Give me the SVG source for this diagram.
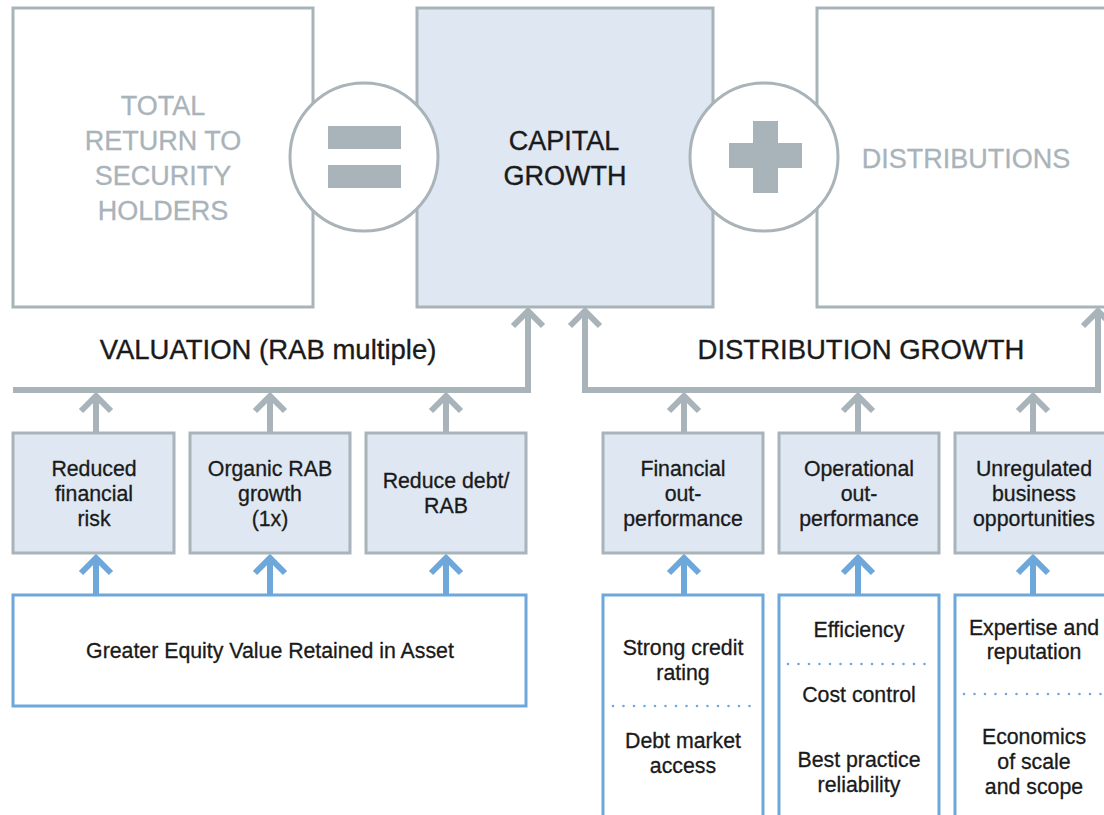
<svg xmlns="http://www.w3.org/2000/svg" xmlns:xlink="http://www.w3.org/1999/xlink" width="1104" height="815" viewBox="0 0 1104 815">
<style>
  .gbox{fill:#ffffff;stroke:#a9b3ba;stroke-width:3}
  .gboxf{fill:#dee7f2;stroke:#a9b3ba;stroke-width:3}
  .bbox{fill:#ffffff;stroke:#6ea7da;stroke-width:3}
  .circ{fill:#ffffff;stroke:#a9b3ba;stroke-width:3}
  .sym{fill:#a9b3ba}
  .gl{fill:none;stroke:#a9b3ba;stroke-width:6;stroke-linejoin:miter}
  .bl{fill:none;stroke:#6ea7da;stroke-width:6;stroke-linejoin:miter}
  .dot{fill:none;stroke:#6ea7da;stroke-width:2.6;stroke-linecap:round;stroke-dasharray:0 10.5}
  text{font-family:"Liberation Sans",Arial,Helvetica,sans-serif;text-anchor:middle}
  .big{font-size:27px}
  .grey{fill:#a9b3ba;stroke:#a9b3ba;stroke-width:0.3}
  .dark{fill:#1a1a1a;stroke:#1a1a1a;stroke-width:0.35}
  .sub{font-size:27.5px;fill:#1a1a1a;stroke:#1a1a1a;stroke-width:0.35}
  .sm{font-size:21.3px;fill:#1a1a1a;stroke:#1a1a1a;stroke-width:0.3}
</style>
<defs>
  <path id="chev" d="M-15,17 L0,2 L15,17"/>
</defs>

<g id="connectors">
  <path class="gl" d="M13,390 H528 V312"/>
  <use xlink:href="#chev" href="#chev" class="gl" x="528" y="309"/>
  <path class="gl" d="M585,312 V390 H1098 V312"/>
  <use xlink:href="#chev" href="#chev" class="gl" x="585" y="309"/>
  <use xlink:href="#chev" href="#chev" class="gl" x="1098" y="309"/>

  <path class="gl" d="M96,397 V433"/><use xlink:href="#chev" href="#chev" class="gl" x="96" y="394"/>
  <path class="gl" d="M270,397 V433"/><use xlink:href="#chev" href="#chev" class="gl" x="270" y="394"/>
  <path class="gl" d="M446,397 V433"/><use xlink:href="#chev" href="#chev" class="gl" x="446" y="394"/>
  <path class="gl" d="M684,397 V433"/><use xlink:href="#chev" href="#chev" class="gl" x="684" y="394"/>
  <path class="gl" d="M858,397 V433"/><use xlink:href="#chev" href="#chev" class="gl" x="858" y="394"/>
  <path class="gl" d="M1033,397 V433"/><use xlink:href="#chev" href="#chev" class="gl" x="1033" y="394"/>

  <path class="bl" d="M96,559 V595"/><use xlink:href="#chev" href="#chev" class="bl" x="96" y="556"/>
  <path class="bl" d="M270,559 V595"/><use xlink:href="#chev" href="#chev" class="bl" x="270" y="556"/>
  <path class="bl" d="M446,559 V595"/><use xlink:href="#chev" href="#chev" class="bl" x="446" y="556"/>
  <path class="bl" d="M684,559 V595"/><use xlink:href="#chev" href="#chev" class="bl" x="684" y="556"/>
  <path class="bl" d="M858,559 V595"/><use xlink:href="#chev" href="#chev" class="bl" x="858" y="556"/>
  <path class="bl" d="M1033,559 V595"/><use xlink:href="#chev" href="#chev" class="bl" x="1033" y="556"/>
</g>

<g id="total-return">
  <rect class="gbox" x="13" y="8" width="300" height="299"/>
  <text class="big grey" x="163" y="115">TOTAL</text>
  <text class="big grey" x="163" y="150">RETURN TO</text>
  <text class="big grey" x="163" y="185">SECURITY</text>
  <text class="big grey" x="163" y="220">HOLDERS</text>
</g>

<g id="capital-growth">
  <rect class="gboxf" x="417" y="8" width="296" height="299"/>
  <text class="big dark" x="564" y="150">CAPITAL</text>
  <text class="big dark" x="565" y="185">GROWTH</text>
</g>

<g id="distributions">
  <rect class="gbox" x="817" y="8" width="300" height="299"/>
  <text class="big grey" x="966" y="168">DISTRIBUTIONS</text>
</g>

<g id="equals">
  <circle class="circ" cx="364" cy="157" r="74"/>
  <rect class="sym" x="328" y="126" width="73" height="23"/>
  <rect class="sym" x="328" y="165" width="73" height="23"/>
</g>

<g id="plus">
  <circle class="circ" cx="764" cy="157" r="74"/>
  <rect class="sym" x="729" y="143" width="73" height="25"/>
  <rect class="sym" x="753" y="121" width="25" height="72"/>
</g>

<g id="valuation-label">
  <text class="sub" x="268" y="359">VALUATION (RAB multiple)</text>
</g>
<g id="distribution-growth-label">
  <text class="sub" x="861" y="359">DISTRIBUTION GROWTH</text>
</g>

<g id="reduced-financial-risk">
  <rect class="gboxf" x="13" y="433" width="161" height="120"/>
  <text class="sm" x="94" y="476">Reduced</text>
  <text class="sm" x="94" y="501">financial</text>
  <text class="sm" x="94" y="526">risk</text>
</g>
<g id="organic-rab-growth">
  <rect class="gboxf" x="190" y="433" width="160" height="120"/>
  <text class="sm" x="270" y="476">Organic RAB</text>
  <text class="sm" x="270" y="501">growth</text>
  <text class="sm" x="270" y="526">(1x)</text>
</g>
<g id="reduce-debt">
  <rect class="gboxf" x="366" y="433" width="160" height="120"/>
  <text class="sm" x="446" y="488">Reduce debt/</text>
  <text class="sm" x="446" y="513">RAB</text>
</g>

<g id="financial-outperformance">
  <rect class="gboxf" x="603" y="433" width="160" height="120"/>
  <text class="sm" x="683" y="476">Financial</text>
  <text class="sm" x="683" y="501">out-</text>
  <text class="sm" x="683" y="526">performance</text>
</g>
<g id="operational-outperformance">
  <rect class="gboxf" x="779" y="433" width="160" height="120"/>
  <text class="sm" x="859" y="476">Operational</text>
  <text class="sm" x="859" y="501">out-</text>
  <text class="sm" x="859" y="526">performance</text>
</g>
<g id="unregulated-business">
  <rect class="gboxf" x="955" y="433" width="170" height="120"/>
  <text class="sm" x="1034" y="476">Unregulated</text>
  <text class="sm" x="1034" y="501">business</text>
  <text class="sm" x="1034" y="526">opportunities</text>
</g>

<g id="greater-equity">
  <rect class="bbox" x="13" y="595" width="513" height="111"/>
  <text class="sm" x="270" y="658">Greater Equity Value Retained in Asset</text>
</g>

<g id="financial-drivers">
  <path class="bbox" d="M603,820 V595 H763 V820"/>
  <text class="sm" x="683" y="655">Strong credit</text>
  <text class="sm" x="683" y="680">rating</text>
  <path class="dot" d="M613,706 H757"/>
  <text class="sm" x="683" y="748">Debt market</text>
  <text class="sm" x="683" y="773">access</text>
</g>
<g id="operational-drivers">
  <path class="bbox" d="M779,820 V595 H939 V820"/>
  <text class="sm" x="859" y="637">Efficiency</text>
  <path class="dot" d="M788,664 H933"/>
  <text class="sm" x="859" y="702">Cost control</text>
  <text class="sm" x="859" y="767">Best practice</text>
  <text class="sm" x="859" y="792">reliability</text>
</g>
<g id="unregulated-drivers">
  <path class="bbox" d="M955,820 V595 H1120"/>
  <text class="sm" x="1034" y="635">Expertise and</text>
  <text class="sm" x="1034" y="659">reputation</text>
  <path class="dot" d="M964,694 H1104"/>
  <text class="sm" x="1034" y="744">Economics</text>
  <text class="sm" x="1034" y="769">of scale</text>
  <text class="sm" x="1034" y="794">and scope</text>
</g>
</svg>
